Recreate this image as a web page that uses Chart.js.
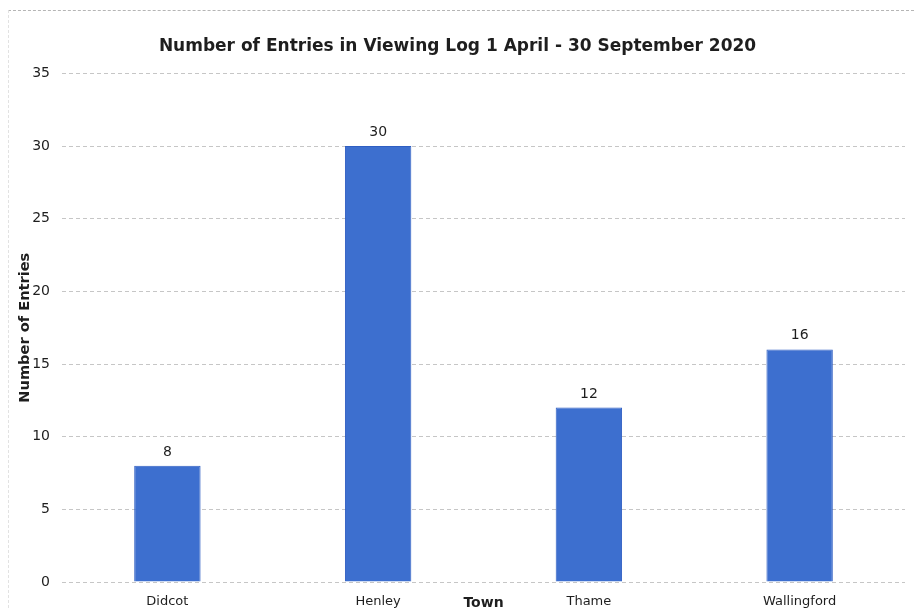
<!DOCTYPE html>
<html>
<head>
<meta charset="utf-8">
<script src="https://cdn.jsdelivr.net/npm/chart.js@4.4.0/dist/chart.umd.min.js"></script>
<style>
  html, body { margin: 0; padding: 0; background: #fff; }
  #wrap { position: relative; width: 914px; height: 608px; }
  #frame {
    position: absolute; left: 8px; top: 10px; right: 0; bottom: 0;
    border-top: 1px dashed #b5b5b5; border-left: 1px dashed #e2e2e2;
    pointer-events: none;
  }
</style>
</head>
<body>
<div id="wrap">
  <canvas id="entries" width="914" height="608"></canvas>
  <div id="frame"></div>
</div>
<script>
const towns = ['Didcot', 'Henley', 'Thame', 'Wallingford']
const entries = [8, 30, 12, 16]
const yTicks = [0, 5, 10, 15, 20, 25, 30, 35]

// numbers over each bar
const barValues = {
  id: 'barValues',
  afterDatasetsDraw(chart) {
    const ctx = chart.ctx
    ctx.save()
    ctx.font = '14px "DejaVu Sans"'
    ctx.fillStyle = '#1e1e1e'
    ctx.textAlign = 'center'
    ctx.textBaseline = 'alphabetic'
    chart.getDatasetMeta(0).data.forEach((bar, i) => {
      ctx.fillText(entries[i], bar.x, bar.y - 10)
    })
    ctx.restore()
  }
}

const ctx = document.getElementById('entries').getContext('2d')
const myChart = new Chart(ctx, {
  type: 'bar',
  data: {
    labels: towns,
    datasets: [{
      data: entries,
      backgroundColor: '#3d6fcf',
      borderColor: '#2f5ec2',
      borderWidth: 1,
      categoryPercentage: 1,
      barPercentage: 0.315
    }]
  },
  options: {
    responsive: false,
    animation: false,
    layout: { padding: { top: 13, left: 10, right: 9, bottom: 0 } },
    plugins: {
      legend: { display: false },
      tooltip: { enabled: false },
      title: {
        display: true,
        text: 'Number of Entries in Viewing Log 1 April - 30 September 2020',
        color: '#1e1e1e',
        font: { family: 'DejaVu Sans', size: 17, weight: 'bold', lineHeight: 1.2 },
        padding: { top: 23, bottom: 17 }
      }
    },
    scales: {
      x: {
        grid: { display: false, drawTicks: false },
        border: { display: false },
        ticks: {
          color: '#1e1e1e',
          padding: 12,
          maxRotation: 0,
          autoSkip: false,
          font: { family: 'DejaVu Sans', size: 13 }
        },
        title: {
          display: true,
          text: 'Town',
          color: '#1e1e1e',
          font: { family: 'DejaVu Sans', size: 14, weight: 'bold', lineHeight: 1 },
          padding: { top: -25.6, bottom: -2 }
        }
      },
      y: {
        min: 0,
        max: 35,
        afterBuildTicks: axis => { axis.ticks = yTicks.map(v => ({ value: v })) },
        grid: { color: '#c6c6c6', drawTicks: false, lineWidth: 1 },
        border: { display: false, dash: [4, 3] },
        ticks: {
          color: '#1e1e1e',
          padding: 12,
          font: { family: 'DejaVu Sans', size: 14 }
        },
        title: {
          display: true,
          text: 'Number of Entries',
          color: '#1e1e1e',
          font: { family: 'DejaVu Sans', size: 14.6, weight: 'bold', lineHeight: 1 },
          padding: { top: 7.7, bottom: -12.1 }
        }
      }
    }
  },
  plugins: [barValues]
})
</script>
</body>
</html>
